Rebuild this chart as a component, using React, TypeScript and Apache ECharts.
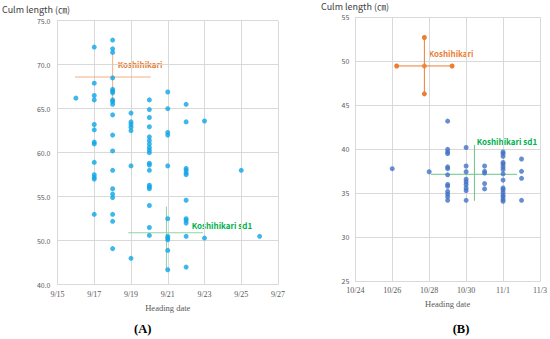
import React, { useEffect, useRef } from "react";
import * as echarts from "echarts";

// ---- Panel A data (heading date in September, culm length in cm) ----
const leftDates = ["9/16", "9/17", "9/18", "9/19", "9/20", "9/21", "9/22", "9/23", "9/25", "9/26"];
const leftValues: number[][] = [
  [66.2],
  [72.0, 67.9, 66.5, 66.0, 63.2, 62.6, 61.2, 61.0, 58.9, 57.5, 57.2, 57.0, 53.0],
  [72.8, 71.8, 71.4, 68.5, 67.2, 67.0, 66.8, 66.0, 65.8, 65.5, 64.3, 62.0, 60.2, 58.0, 55.9, 55.3, 54.9, 53.0, 52.2, 49.1],
  [64.5, 63.5, 63.2, 62.9, 62.5, 58.5, 48.0],
  [66.0, 64.9, 64.0, 62.95, 61.8, 61.4, 61.0, 60.6, 60.3, 60.0, 58.8, 58.6, 58.0, 56.3, 56.1, 55.9, 54.0, 51.5, 50.6],
  [66.9, 65.0, 62.3, 62.0, 58.5, 52.5, 50.5, 50.3, 50.1, 48.9, 46.7],
  [65.5, 63.5, 58.2, 58.0, 57.7, 57.5, 54.6, 52.5, 52.3, 52.0, 50.5, 47.0],
  [63.6, 50.3],
  [58.0],
  [50.5],
];
const leftXTicks = ["9/15", "9/17", "9/19", "9/21", "9/23", "9/25", "9/27"];
const leftYTicks = ["40.0", "50.0", "55.0", "60.0", "65.0", "70.0", "75.0"];
// Koshihikari (A): mean, x range, y range
const koshiAMean = [18.0, 68.6];
const koshiAX = [15.95, 20.08];
const koshiAY = [65.9, 71.3];
// Koshihikari sd1 (A)
const sd1AMean = [20.93, 50.9];
const sd1AX = [18.85, 22.92];
const sd1AY = [46.6, 53.9];

// ---- Panel B data ----
const rightDates = ["10/26", "10/28", "10/29", "10/30", "10/31", "11/1", "11/2"];
const rightValues: number[][] = [
  [37.8],
  [37.45],
  [43.2, 40.0, 39.7, 39.5, 38.0, 37.8, 37.1, 36.0, 35.8, 35.2, 34.9, 34.6, 34.2],
  [40.2, 38.1, 37.45, 36.6, 36.3, 36.0, 35.6, 35.3, 34.2],
  [38.1, 37.5, 37.3, 36.1, 35.5],
  [39.7, 39.5, 39.2, 38.5, 38.3, 38.0, 37.7, 37.2, 36.5, 35.6, 35.4, 35.1, 34.8, 34.6, 34.3, 34.1],
  [38.9, 37.5, 36.7, 34.2],
];
const rightXTicks = ["10/24", "10/26", "10/28", "10/30", "11/1", "11/3"];
const rightYTicks = ["25", "30", "35", "40", "45", "50", "55"];
// Koshihikari (B), x in days after 10/24
const koshiBMean = [3.74, 49.47];
const koshiBX = [2.24, 5.24];
const koshiBY = [46.3, 52.7];
// Koshihikari sd1 (B)
const sd1BMean = [6.45, 37.16];
const sd1BX = [4.09, 8.76];
const sd1BY = [34.15, 40.5];

const sepDay = (s: string) => Number(s.split("/")[1]);
const octOffset = (s: string) => {
  const [m, d] = s.split("/").map(Number);
  return m === 10 ? d - 24 : d + 7;
};

const leftPoints: number[][] = [];
leftDates.forEach((d, i) => leftValues[i].forEach((v) => leftPoints.push([sepDay(d), v])));
const rightPoints: number[][] = [];
rightDates.forEach((d, i) => rightValues[i].forEach((v) => rightPoints.push([octOffset(d), v])));

const GRID = "#D9D9D9";
const LABEL = "#595959";
const ORANGE = "#ED7D31";
const GREEN = "#00B050";
const SANS = "'Noto Sans CJK JP', 'Noto Sans', sans-serif";
const SERIF = "'Liberation Serif', 'DejaVu Serif', serif";

export default function App() {
  const ref = useRef<HTMLDivElement>(null);
  useEffect(() => {
    if (!ref.current) return;
    const chart = echarts.init(ref.current, null, { renderer: "svg" });
    const xAxisBase = {
      type: "value" as const,
      axisLine: { show: true, lineStyle: { color: GRID } },
      axisTick: { show: false },
      splitLine: { show: true, lineStyle: { color: GRID, width: 1 } },
      axisLabel: { color: LABEL, fontFamily: SERIF, fontSize: 8, margin: 6 },
      nameLocation: "middle" as const,
      nameTextStyle: { color: LABEL, fontFamily: SERIF, fontSize: 8.5 },
    };
    const yAxisBase = {
      type: "value" as const,
      axisLine: { show: true, lineStyle: { color: GRID } },
      axisTick: { show: false },
      splitLine: { show: true, lineStyle: { color: GRID, width: 1 } },
      axisLabel: { color: LABEL, fontFamily: SANS, fontSize: 7, margin: 7 },
    };
    const seg = (
      name: string,
      data: number[][],
      idx: number,
      color: string,
      withSymbol: boolean
    ) => ({
      type: "line",
      name,
      xAxisIndex: idx,
      yAxisIndex: idx,
      data,
      showSymbol: withSymbol,
      symbol: "circle",
      symbolSize: 5,
      itemStyle: { color },
      lineStyle: { color, width: 1 },
      silent: true,
      z: 1,
    });
    chart.setOption({
      animation: false,
      grid: [
        { left: 57.5, top: 20.7, width: 220.5, height: 264 },
        { left: 355.3, top: 17.3, width: 184.7, height: 264 },
      ],
      xAxis: [
        {
          ...xAxisBase,
          gridIndex: 0,
          min: 15,
          max: 27,
          interval: 2,
          name: "Heading date",
          nameGap: 17,
          axisLabel: {
            ...xAxisBase.axisLabel,
            formatter: (v: number) => leftXTicks[Math.round((v - 15) / 2)] ?? "",
          },
        },
        {
          ...xAxisBase,
          gridIndex: 1,
          min: 0,
          max: 10,
          interval: 2,
          name: "Heading date",
          nameGap: 18,
          axisLabel: {
            ...xAxisBase.axisLabel,
            margin: 5,
            formatter: (v: number) => rightXTicks[Math.round(v / 2)] ?? "",
          },
        },
      ],
      yAxis: [
        {
          ...yAxisBase,
          gridIndex: 0,
          min: 45,
          max: 75,
          interval: 5,
          axisLabel: {
            ...yAxisBase.axisLabel,
            formatter: (v: number) => leftYTicks[Math.round((v - 45) / 5)] ?? "",
          },
        },
        {
          ...yAxisBase,
          gridIndex: 1,
          min: 25,
          max: 55,
          interval: 5,
          axisLabel: {
            ...yAxisBase.axisLabel,
            margin: 6,
            formatter: (v: number) => rightYTicks[Math.round((v - 25) / 5)] ?? "",
          },
        },
      ],
      series: [
        seg("Koshihikari h", [[koshiAX[0], koshiAMean[1]], [koshiAX[1], koshiAMean[1]]], 0, "#F4B183", false),
        seg("Koshihikari v", [[koshiAMean[0], koshiAY[0]], [koshiAMean[0], koshiAY[1]]], 0, "#F4B183", false),
        seg("sd1 h", [[sd1AX[0], sd1AMean[1]], [sd1AX[1], sd1AMean[1]]], 0, "#8FD4A5", false),
        seg("sd1 v", [[sd1AMean[0], sd1AY[0]], [sd1AMean[0], sd1AY[1]]], 0, "#8FD4A5", false),
        {
          type: "scatter",
          name: "A",
          xAxisIndex: 0,
          yAxisIndex: 0,
          data: leftPoints,
          symbolSize: 5,
          itemStyle: { color: "#0FA5E6" },
          z: 3,
        },
        seg("Koshihikari B h", [[koshiBX[0], koshiBMean[1]], [koshiBX[1], koshiBMean[1]]], 1, ORANGE, true),
        seg("Koshihikari B v", [[koshiBMean[0], koshiBY[0]], [koshiBMean[0], koshiBY[1]]], 1, ORANGE, true),
        {
          type: "scatter",
          name: "Koshihikari B",
          xAxisIndex: 1,
          yAxisIndex: 1,
          data: [koshiBMean],
          symbolSize: 5,
          itemStyle: { color: ORANGE },
          z: 3,
        },
        seg("sd1 B h", [[sd1BX[0], sd1BMean[1]], [sd1BX[1], sd1BMean[1]]], 1, "#6CC48A", false),
        seg("sd1 B v", [[sd1BMean[0], sd1BY[0]], [sd1BMean[0], sd1BY[1]]], 1, "#6CC48A", false),
        {
          type: "scatter",
          name: "B",
          xAxisIndex: 1,
          yAxisIndex: 1,
          data: rightPoints,
          symbolSize: 5,
          itemStyle: { color: "#4472C4" },
          z: 3,
        },
      ],
      graphic: [
        { type: "text", left: 2, top: 5, style: { text: "Culm length (㎝)", fill: "#404040", font: `9px ${SANS}` } },
        { type: "text", left: 321, top: 2, style: { text: "Culm length (㎝)", fill: "#404040", font: `9px ${SANS}` } },
        { type: "text", x: 117.7, y: 64.3, style: { text: "Koshihikari", fill: ORANGE, font: `bold 8px ${SANS}`, verticalAlign: "middle" } },
        { type: "text", x: 191.7, y: 225.5, style: { text: "Koshihikari sd1", fill: GREEN, font: `bold 8px ${SANS}`, verticalAlign: "middle" } },
        { type: "text", x: 428.7, y: 53.3, style: { text: "Koshihikari", fill: ORANGE, font: `bold 8px ${SANS}`, verticalAlign: "middle" } },
        { type: "text", x: 476.7, y: 141.7, style: { text: "Koshihikari sd1", fill: GREEN, font: `bold 8px ${SANS}`, verticalAlign: "middle" } },
        { type: "text", x: 142.7, y: 329.3, style: { text: "(A)", fill: "#000", font: `bold 12.5px ${SERIF}`, align: "center", verticalAlign: "middle" } },
        { type: "text", x: 461, y: 328.7, style: { text: "(B)", fill: "#000", font: `bold 12.5px ${SERIF}`, align: "center", verticalAlign: "middle" } },
      ],
    });
    return () => chart.dispose();
  }, []);
  return <div ref={ref} style={{ width: 550, height: 339, position: "absolute", left: 0, top: 0, background: "#fff" }} />;
}
